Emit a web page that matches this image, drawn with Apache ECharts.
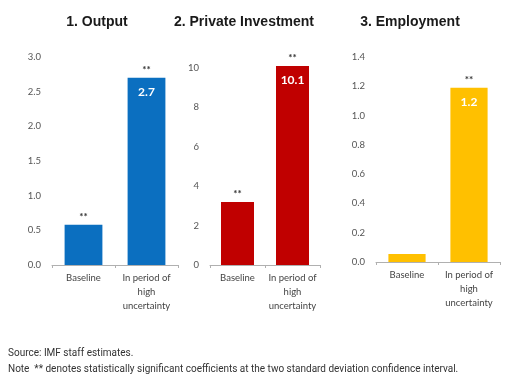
<!DOCTYPE html>
<html><head><meta charset="utf-8">
<script src="https://cdn.jsdelivr.net/npm/echarts@6/dist/echarts.min.js"></script>
<style>html,body{margin:0;padding:0;background:#fff}#c{width:514px;height:384px}</style>
</head><body><div id="c"></div>
<script>
var categories = ['Baseline', 'In period of\nhigh\nuncertainty'];
var titles = ['1. Output', '2. Private Investment', '3. Employment'];
var outputVals = [0.58, 2.7];
var investmentVals = [3.2, 10.1];
var employmentVals = [0.055, 1.19];
var outputSig = ['**', '**'];
var investmentSig = ['**', '**'];
var employmentSig = ['', '**'];
var showValue = [false, true];
var colors = ['#0b6fc0', '#c00000', '#ffc000'];
var yMax = [3.0, 10, 1.4];
var yInterval = [0.5, 2, 0.2];
var yDecimals = [1, 0, 1];

var values = [outputVals, investmentVals, employmentVals];
var sigs = [outputSig, investmentSig, employmentSig];
var grids = [
  {left: 52, top: 57, width: 126, height: 208},
  {left: 210, top: 68, width: 110, height: 197},
  {left: 376, top: 57, width: 124, height: 205}
];
var titleX = [97, 244, 410];
var font = 'Lato';

var option = {
  animation: false,
  title: titles.map(function (t, i) {
    return {text: t, left: titleX[i], top: 15, textAlign: 'center', padding: 0,
      textStyle: {fontFamily: 'Liberation Sans', fontSize: 14, fontWeight: 'bold', color: '#1a1a1a'}};
  }).concat([{
    text: 'Source: IMF staff estimates.\nNote  ** denotes statistically significant coefficients at the two standard deviation confidence interval.',
    left: 8, top: 345, padding: 0,
    textStyle: {fontFamily: 'Roboto', fontSize: 10, fontWeight: 'normal', color: '#333', lineHeight: 16}
  }]),
  grid: grids,
  xAxis: grids.map(function (g, i) {
    return {type: 'category', gridIndex: i, data: categories,
      axisLine: {lineStyle: {color: '#b0b0b0'}},
      axisTick: {show: true, length: 3, lineStyle: {color: '#b0b0b0'}},
      axisLabel: {fontFamily: font, fontSize: 9.5, color: '#444', interval: 0, lineHeight: 14, margin: 6}};
  }),
  yAxis: grids.map(function (g, i) {
    return {type: 'value', gridIndex: i, min: 0, max: yMax[i], interval: yInterval[i],
      splitLine: {show: false}, axisLine: {show: false}, axisTick: {show: false},
      axisLabel: {fontFamily: font, fontSize: 9.5, color: '#555', margin: 11,
        formatter: function (v) { return v.toFixed(yDecimals[i]); }}};
  }),
  series: []
};
values.forEach(function (vals, i) {
  option.series.push({
    type: 'bar', xAxisIndex: i, yAxisIndex: i, barWidth: '60%', clip: false,
    data: vals.map(function (v, j) {
      return {value: v, label: {show: showValue[j]}};
    }),
    itemStyle: {color: colors[i]},
    label: {position: 'insideTop', distance: 8, color: '#fff', fontFamily: font,
      fontWeight: 'bold', fontSize: 12, formatter: function (p) { return p.value.toFixed(1); }}
  });
  option.series.push({
    type: 'bar', xAxisIndex: i, yAxisIndex: i, barWidth: '60%', barGap: '-100%', clip: false,
    data: vals, itemStyle: {color: 'rgba(0,0,0,0)'}, z: 3,
    label: {show: true, position: 'top', distance: 3, color: '#333', fontFamily: font, fontSize: 10,
      fontWeight: 'bold', formatter: function (p) { return sigs[i][p.dataIndex]; }}
  });
});
echarts.init(document.getElementById('c')).setOption(option);
</script></body></html>
